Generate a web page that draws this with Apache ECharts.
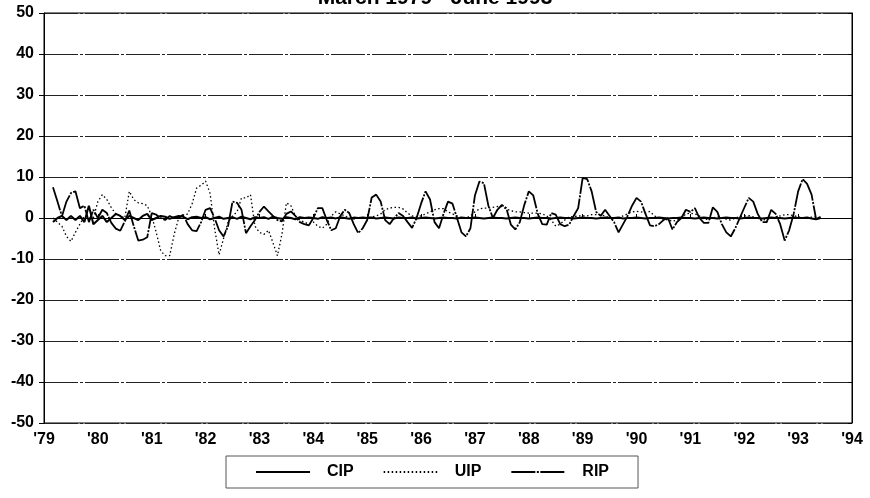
<!DOCTYPE html>
<html><head><meta charset="utf-8">
<script src="https://cdn.jsdelivr.net/npm/echarts@6/dist/echarts.min.js"></script>
<style>html,body{margin:0;padding:0;background:#fff}#c{width:870px;height:498px}</style>
</head><body><div id="c"></div>
<script>
const chartTitle = 'March 1979 - June 1993';
const yearLabels = ["'79","'80","'81","'82","'83","'84","'85","'86","'87","'88","'89","'90","'91","'92","'93","'94"];
const seriesNames = ['CIP', 'UIP', 'RIP'];
const firstMonthIndex = 2; // March 1979 (Jan 1979 = 0)

// Monthly values, March 1979 .. June 1993
const cip = [
  -1, 0, 0.5, -0.5, 0.5, -0.5, 0.5, -1, 3, -1.5,
  -0.5, 0.5, -1, 0, 1, 0.5, -0.5, 0.5, 0, -0.5, 0.5, 1,
  -0.5, 0, 0.5, 0.3, -0.2, 0.2, 0.5, 0.3, -0.3, 0.2, 0.3, 0,
  0.2, -0.3, 0, 0.3, -0.2, 0, 0.2, -0.2, 0.3, 0, -0.3, 0.2,
  0, 0.2, -0.2, 0.3, 0, -0.2, 0.2, 0, -0.3, 0.2, 0, 0.1,
  0, -0.2, 0.2, 0, 0.1, -0.1, 0.2, 0, -0.2, 0.1, 0, 0.1,
  0, 0.1, -0.1, 0, 0.1, 0, -0.1, 0.1, 0, 0, 0.1, -0.1,
  0, 0.1, 0, -0.1, 0, 0.1, 0, 0, -0.1, 0.1, 0, 0,
  0.1, 0, -0.1, 0, 0.1, 0, 0, -0.1, 0, 0.1, 0, 0,
  -0.1, 0, 0.1, 0, 0, -0.1, 0, 0.1, 0, 0, -0.1, 0,
  0.1, 0, 0, -0.1, 0, 0.1, 0, 0, 0.1, -0.1, 0, 0,
  0.1, 0, -0.1, 0, 0, 0.1, 0, -0.1, 0, 0, 0.1, 0,
  0, -0.1, 0, 0.1, 0, 0, -0.1, 0, 0.1, 0, 0, -0.1,
  0, 0.1, 0, 0, -0.1, 0, 0.1, 0, 0, -0.1, 0, 0.1,
  0, 0, 0.1, -0.1, -0.3, 0
];
const uip = [
  0, -1, -2, -4.5, -5.7, -3.5, -1.5, 0.5, 0, 0,
  4, 5.7, 4.5, 2.5, 1, 0.5, 0, 6.5, 4.5, 3.7, 3.5, 3,
  0.5, -3.5, -8, -9.2, -9.2, -4, 0, 0.5, 1, 3.5, 7.3, 8,
  9, 6, -2.5, -9, -5, -1, 0.5, 1.5, 4.9, 4.9, 5.7, -2,
  -3.5, -4, -3, -6, -9.2, -4, 3.7, 3, 0.5, -0.5, -1, -1.5,
  -1, -2, -2.5, -1.5, 0.5, 1.5, 1, 0.5, 0, -0.3, 0, 0,
  0, 0.3, 0.5, 1, 2, 2.4, 2.6, 2.6, 2.2, 1.2, 0.5, 0.3,
  0.5, 1, 1.5, 2, 2.3, 2.3, 1.5, 1, 0.5, 0, 0, 0.5,
  1.5, 2.2, 2.4, 2.4, 2.6, 2.8, 2.8, 2.2, 1.8, 1.5, 1.5, 1.3,
  1.2, 1.2, 1.2, 1, 0.5, -0.5, -2, -1.5, -0.5, 0.3, 0.3, 0.5,
  0.5, 0.5, 0.8, 0.8, 0.8, 0.5, 0, 0, 0, 0.5, 1, 1.5,
  1.6, 1.5, 1.2, 1.6, 0.5, 0, -0.3, -0.5, -0.8, -0.5, 0, 1,
  1.2, 1, 0.5, -0.3, -0.3, 0, 0.3, 0, -0.3, -0.5, 0, 0.3,
  0.5, 0.6, 0.3, 0, -0.5, -0.3, 0, 0.2, 0.5, 0.8, 0.8, 0.6,
  0.3, 0, 0, 0.2, 0.3, 0
];
const rip = [
  7.5, 4, 0.4, 4, 6.1, 6.5, 2.4, 3, -1, 2,
  0, 2, 1.2, -1.2, -2.6, -3.1, -0.8, 1.8, -2, -5.5, -5.3, -4.7,
  1.2, 0.8, 0, -0.5, 0.5, 0, 0, 0.8, -1.5, -3, -3.2, -1,
  2, 2.4, 0, -3, -4.5, -2, 4, 3.7, 2, -3.7, -2, -0.5,
  1.5, 2.8, 1.6, 0.5, -0.5, -0.8, 1, 1.6, 0.5, -1, -1.5, -1.8,
  0, 2.4, 2.4, -0.5, -3, -2.5, 0.5, 2, 1.2, -1.5, -3.7, -2.5,
  -0.5, 5, 5.7, 4, -0.5, -1.5, 0, 1.2, 0.5, -1, -2.4, 0,
  3.5, 6.5, 4.5, -1, -2.5, 1, 4, 3.5, 0, -3.5, -4.5, -2.5,
  5.5, 8.9, 8.5, 3, 0, 2, 3.2, 2.4, -1.6, -2.8, -1, 3.2,
  6.5, 5.5, 1, -1.5, -1.6, 1.2, 0.8, -1.5, -2, -1.6, 0.5, 2.4,
  9.8, 9.5, 6.5, 1.5, 0.5, 2, 0.5, -1, -3.5, -1.5, 0.5, 3,
  4.9, 4, 1, -1.8, -2, -1.5, -0.5, 0, -2.8, -1, 0, 2,
  1.5, 2.4, 0, -1.2, -1.2, 2.6, 1.5, -1.5, -3.5, -4.5, -2.5, 0,
  2.5, 4.9, 4, 1, -1, -1, 2, 1, -1.5, -5.5, -3, 1,
  6.5, 9.5, 8.3, 5.7, -0.3, 0.3
];

// Month categories Jan 1979 .. Jan 1994
const categories = [];
for (let y = 1979; y < 1994; y++) for (let m = 1; m <= 12; m++) categories.push(y + '-' + m);
categories.push('1994-1');

function pad(arr) {
  const out = new Array(categories.length).fill(null);
  arr.forEach((v, i) => { out[firstMonthIndex + i] = v; });
  return out;
}

const FONT = "'Liberation Sans', Arial, sans-serif";
const chart = echarts.init(document.getElementById('c'), null, { renderer: 'canvas' });
chart.setOption({
  animation: false,
  backgroundColor: '#fff',
  title: {
    text: chartTitle, left: 'center', top: -17,
    textStyle: { fontFamily: FONT, fontWeight: 'bold', fontSize: 21, color: '#000' }
  },
  grid: { left: 44, right: 18, top: 13, bottom: 75, show: true, borderColor: '#000', borderWidth: 1 },
  legend: {
    data: seriesNames, left: 226, top: 456,
    itemWidth: 54, itemHeight: 10, itemGap: 29,
    padding: [8, 29, 8, 29],
    borderColor: '#555', borderWidth: 1,
    itemStyle: { opacity: 0 },
    textStyle: { fontFamily: FONT, fontWeight: 'bold', fontSize: 16, color: '#000', padding: [0, 0, 0, 12] }
  },
  xAxis: {
    type: 'category', data: categories, boundaryGap: false,
    axisLine: { show: true, lineStyle: { color: '#000', width: 1 } },
    axisTick: { show: true, inside: true, length: 4, interval: 11, lineStyle: { color: '#000' } },
    axisLabel: {
      interval: 11, margin: 9,
      fontFamily: FONT, fontWeight: 'bold', fontSize: 16, color: '#000',
      formatter: (v, i) => yearLabels[Math.round(i / 12)]
    },
    splitLine: { show: false }
  },
  yAxis: [{
    type: 'value', min: -50, max: 50, interval: 10,
    axisLine: { show: true, lineStyle: { color: '#000', width: 1 } },
    axisTick: { show: true, length: 5, lineStyle: { color: '#000' } },
    axisLabel: { margin: 10, fontFamily: FONT, fontWeight: 'bold', fontSize: 16, color: '#000' },
    splitLine: { show: true, lineStyle: { color: '#222', width: 1, type: [34, 2, 3, 2] } }
  }, {
    type: 'value', min: -50, max: 50, interval: 10, position: 'right',
    axisLine: { show: true, lineStyle: { color: '#000' } },
    axisTick: { show: true, inside: true, length: 4, lineStyle: { color: '#000' } },
    axisLabel: { show: false }, splitLine: { show: false }
  }],
  series: [
    { name: 'CIP', type: 'line', data: pad(cip), symbol: 'none', connectNulls: false, z: 4,
      lineStyle: { color: '#000', width: 2, type: 'solid' }, itemStyle: { color: '#000' } },
    { name: 'UIP', type: 'line', data: pad(uip), symbol: 'none', z: 3,
      lineStyle: { color: '#000', width: 1.3, type: [1.5, 2.5] }, itemStyle: { color: '#000' } },
    { name: 'RIP', type: 'line', data: pad(rip), symbol: 'none', z: 5,
      lineStyle: { color: '#000', width: 1.8, type: [24, 1.5, 2, 1.5] }, itemStyle: { color: '#000' } }
  ]
});
</script>
</body></html>
